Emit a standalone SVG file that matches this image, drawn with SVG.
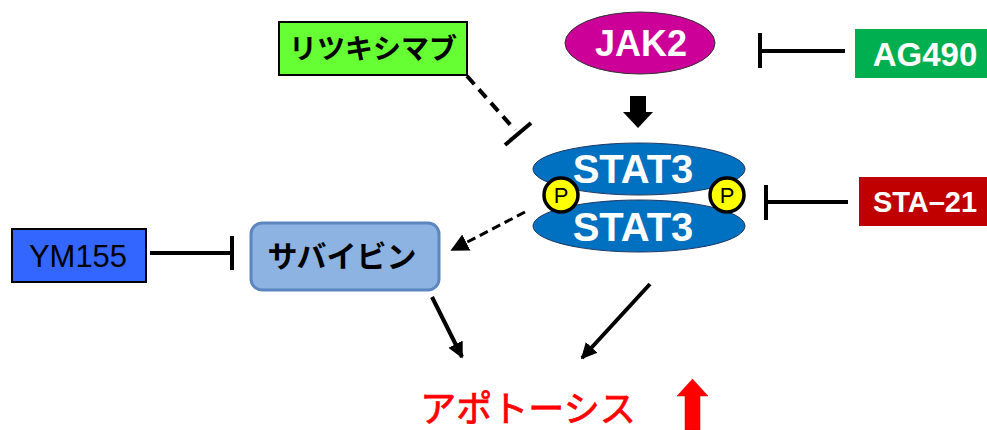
<svg xmlns="http://www.w3.org/2000/svg" width="987" height="430" viewBox="0 0 987 430">
<style>
.b{font-family:"Liberation Sans","Noto Sans CJK JP",Arial,sans-serif;font-weight:bold;text-anchor:middle}
.n{font-family:"Liberation Sans","Noto Sans CJK JP",Arial,sans-serif;text-anchor:middle}
.w{fill:#fff}
.k{fill:#000}
.ln{stroke:#000;stroke-width:4;fill:none}
</style>
<defs>
<marker id="ah" viewBox="0 0 10 10" refX="9" refY="5" markerWidth="4" markerHeight="4" orient="auto" markerUnits="strokeWidth">
<path d="M0,0L10,5L0,10z" fill="#000"/>
</marker>
<marker id="ahs" viewBox="0 0 10 10" refX="9" refY="5" markerWidth="6" markerHeight="6" orient="auto" markerUnits="strokeWidth">
<path d="M0,0L10,5L0,10z" fill="#000"/>
</marker>
</defs>
<rect width="987" height="430" fill="#fff"/>
<g id="connectors">
<line class="ln" x1="467" y1="76" x2="515" y2="130" stroke-dasharray="11,7"/>
<line class="ln" x1="505" y1="145" x2="531" y2="123"/>
<line class="ln" x1="760" y1="33" x2="760" y2="68"/>
<line class="ln" x1="760" y1="51" x2="845" y2="51" stroke-width="3"/>
<path d="M630,96H646V112H653L638,128L623,112H630Z" fill="#000"/>
<line class="ln" x1="766" y1="185" x2="766" y2="220"/>
<line class="ln" x1="766" y1="202" x2="848" y2="202" stroke-width="3"/>
<line class="ln" x1="150" y1="253" x2="232" y2="253" stroke-width="3"/>
<line class="ln" x1="232" y1="236" x2="232" y2="270"/>
<line x1="525" y1="212" x2="452" y2="250" stroke="#000" stroke-width="3" stroke-dasharray="9,5" marker-end="url(#ahs)"/>
<line x1="432" y1="297" x2="462" y2="357" stroke="#000" stroke-width="4" marker-end="url(#ah)"/>
<line x1="650" y1="284" x2="582" y2="358" stroke="#000" stroke-width="4" marker-end="url(#ah)"/>
</g>
<g id="rituximab">
<rect x="279" y="22" width="188" height="53" fill="#66ff33" stroke="#000" stroke-width="2"/>
<text class="b k" x="373" y="59" font-size="28">リツキシマブ</text>
</g>
<g id="jak2">
<ellipse cx="640" cy="43" rx="75" ry="31" fill="#cc0099" stroke="#333" stroke-width="1"/>
<text class="b w" x="641" y="56" font-size="36">JAK2</text>
</g>
<g id="ag490">
<rect x="855" y="29" width="132" height="49" fill="#00b050"/>
<text class="b w" x="925" y="66" font-size="33">AG490</text>
</g>
<g id="stat3">
<ellipse cx="639" cy="169" rx="106" ry="26" fill="#0070c0" stroke="#1f3864" stroke-width="1"/>
<ellipse cx="639" cy="226" rx="106" ry="26" fill="#0070c0" stroke="#1f3864" stroke-width="1"/>
<text class="b w" x="633" y="183" font-size="40">STAT3</text>
<text class="b w" x="633" y="241" font-size="40">STAT3</text>
<circle cx="561" cy="195" r="17" fill="#ffff00" stroke="#000" stroke-width="3.5"/>
<text class="n k" x="561" y="203" font-size="22">P</text>
<circle cx="727" cy="195" r="17" fill="#ffff00" stroke="#000" stroke-width="3.5"/>
<text class="n k" x="727" y="203" font-size="22">P</text>
</g>
<g id="sta21">
<rect x="859" y="177" width="128" height="49" fill="#c00000"/>
<text class="b w" x="925" y="212" font-size="29">STA–21</text>
</g>
<g id="ym155">
<rect x="12" y="229" width="134" height="53" fill="#3366ff" stroke="#000" stroke-width="2"/>
<text class="n k" x="78" y="267" font-size="31">YM155</text>
</g>
<g id="survivin">
<rect x="251" y="223" width="188" height="67" rx="11" fill="#8db3e2" stroke="#5b86c0" stroke-width="3"/>
<text class="b k" x="342" y="267" font-size="30">サバイビン</text>
</g>
<g id="apoptosis">
<text class="n" x="528" y="422" font-size="36" fill="#ff0000" stroke="#ff0000" stroke-width="0.8">アポトーシス</text>
<path d="M685,430V396H677L692.5,379L708,396H700V430Z" fill="#ff0000" stroke="#c00" stroke-width="0.5"/>
</g>
</svg>
